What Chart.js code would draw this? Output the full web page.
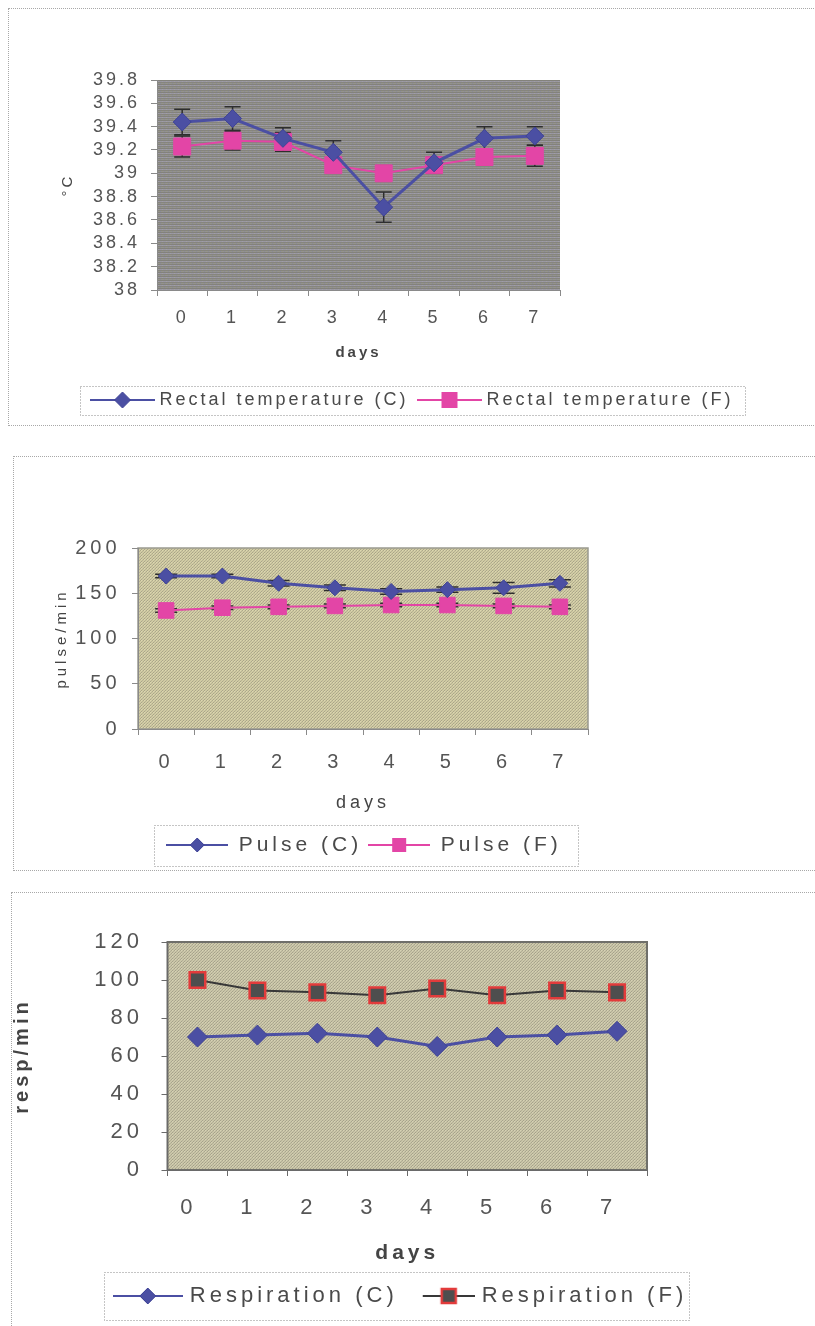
<!DOCTYPE html>
<html>
<head>
<meta charset="utf-8">
<script src="https://cdn.jsdelivr.net/npm/chart.js@4.4.0/dist/chart.umd.min.js"></script>
<style>
  body { margin: 0; background: #fff; width: 815px; height: 1326px; position: relative; overflow: hidden; }
  .panel { position: absolute; border: 1px dotted #a8a8a8; }
  .panel canvas { position: absolute; left: 0; top: 0; }
</style>
</head>
<body>
<div class="panel" style="left:8px;top:8px;width:830px;height:416px"><canvas id="tempChart" width="806" height="416"></canvas></div>
<div class="panel" style="left:13px;top:456px;width:830px;height:413px"><canvas id="pulseChart" width="801" height="413"></canvas></div>
<div class="panel" style="left:11px;top:892px;width:830px;height:450px"><canvas id="respChart" width="803" height="433"></canvas></div>

<script>
// values
var days = ['0', '1', '2', '3', '4', '5', '6', '7'];

var tempC = [39.44, 39.47, 39.30, 39.18, 38.71, 39.09, 39.30, 39.32];
var tempCErr = [0.11, 0.10, 0.09, 0.10, 0.13, 0.09, 0.10, 0.08];
var tempF = [39.23, 39.28, 39.27, 39.07, 39.00, 39.07, 39.14, 39.15];
var tempFErr = [0.09, 0.08, 0.08, 0.03, 0.02, 0.07, 0.07, 0.09];
var tempTicks = [38, 39.8, 0.2];   // min, max, step

var pulseC = [169, 169, 161, 156, 152, 154, 156, 161];
var pulseCErr = [2, 2, 3, 3, 3, 3, 6, 4];
var pulseF = [131, 134, 135, 136, 137, 137, 136, 135];
var pulseFErr = [2, 2, 2, 2, 2, 2, 2, 2];
var pulseTicks = [0, 200, 50];

var respC = [70, 71, 72, 70, 65, 70, 71, 73];
var respF = [100, 94.5, 93.5, 92, 95.5, 92, 94.5, 93.5];
var respTicks = [0, 120, 20];

var FONT = '"Liberation Sans", Arial, sans-serif';
var BLUE = '#4b4fa3';
var PINK = '#e345a6';

// small textured tiles for the plot backgrounds
function tile(w, h, base, dots) {
    var c = document.createElement('canvas');
    c.width = w; c.height = h;
    var g = c.getContext('2d');
    g.fillStyle = base;
    g.fillRect(0, 0, w, h);
    dots.forEach(function(d) {
        g.fillStyle = d[2];
        g.fillRect(d[0], d[1], d[3] || 1, 1);
    });
    return c;
}
var tiles = {
    gray: tile(4, 4, '#8e8d87', [[0, 0, '#9a98a2', 4], [0, 1, '#86857e', 4], [0, 2, '#95948b', 4], [0, 3, '#83827c', 4], [1, 0, '#a09da8'], [3, 2, '#8b8a9a']]),
    olive: tile(3, 3, '#d0cba3', [[0, 0, '#aca78a'], [2, 1, '#b7b294'], [1, 2, '#a9a489'], [1, 0, '#dcd7b0']]),
    khaki: tile(3, 3, '#cac6a8', [[0, 0, '#a8a48d'], [2, 1, '#b3af97'], [1, 2, '#a5a18b'], [1, 0, '#d6d2b4']])
};

// legend swatch: line with the marker in its middle (x0 = where the line starts)
function icon(w, x0, lineColor, lineWidth, shape, size, fill, stroke, strokeWidth) {
    var c = document.createElement('canvas');
    c.width = w; c.height = 26;
    var g = c.getContext('2d');
    var cx = (x0 + w) / 2;
    g.strokeStyle = lineColor;
    g.lineWidth = lineWidth;
    g.beginPath(); g.moveTo(x0, 13); g.lineTo(w, 13); g.stroke();
    g.fillStyle = fill;
    g.strokeStyle = stroke;
    g.lineWidth = strokeWidth;
    g.beginPath();
    if (shape === 'diamond') {
        g.moveTo(cx, 13 - size); g.lineTo(cx + size, 13);
        g.lineTo(cx, 13 + size); g.lineTo(cx - size, 13);
        g.closePath();
    } else {
        g.rect(cx - size, 13 - size, size * 2, size * 2);
    }
    g.fill();
    if (strokeWidth) g.stroke();
    return c;
}

var plotBg = {
    id: 'plotBg',
    beforeDraw: function(chart, args, o) {
        var ctx = chart.ctx, a = chart.chartArea;
        ctx.save();
        ctx.fillStyle = ctx.createPattern(tiles[o.tile], 'repeat');
        ctx.fillRect(a.left, a.top, a.width, a.height);
        if (o.border) {
            ctx.strokeStyle = o.border;
            ctx.lineWidth = o.borderWidth;
            ctx.strokeRect(a.left, a.top, a.width, a.height);
        }
        ctx.restore();
    }
};

var errorBars = {
    id: 'errorBars',
    beforeDatasetsDraw: function(chart, args, o) {
        var ctx = chart.ctx, y = chart.scales.y;
        chart.data.datasets.forEach(function(ds, i) {
            if (!ds.errors) return;
            var meta = chart.getDatasetMeta(i);
            ctx.save();
            ctx.strokeStyle = o.color;
            ctx.lineWidth = o.width;
            meta.data.forEach(function(pt, j) {
                var t = y.getPixelForValue(ds.data[j] + ds.errors[j]);
                var b = y.getPixelForValue(ds.data[j] - ds.errors[j]);
                ctx.beginPath();
                ctx.moveTo(pt.x, t); ctx.lineTo(pt.x, b);
                ctx.moveTo(pt.x - o.cap, t); ctx.lineTo(pt.x + o.cap, t);
                ctx.moveTo(pt.x - o.cap, b); ctx.lineTo(pt.x + o.cap, b);
                ctx.stroke();
            });
            ctx.restore();
        });
    }
};

var legendBox = {
    id: 'legendBox',
    afterDraw: function(chart, args, o) {
        var hb = chart.legend && chart.legend.legendHitBoxes;
        if (!hb || !hb.length) return;
        var first = hb[0], last = hb[hb.length - 1];
        var cy = first.top + first.height / 2;
        var x0 = Math.round(first.left - o.left) + 0.5;
        var x1 = Math.round(last.left + last.width + o.right) + 0.5;
        var ctx = chart.ctx;
        ctx.save();
        ctx.setLineDash([1, 2]);
        ctx.strokeStyle = '#8a8a8a';
        ctx.lineWidth = 1;
        ctx.strokeRect(x0, Math.round(cy - o.half) + 0.5, x1 - x0, Math.round(o.half * 2));
        ctx.restore();
    }
};

// the scan is stretched sideways, so all text gets some letter spacing
var spacing = {
    id: 'spacing',
    beforeLayout: function(chart, args, o) { chart.ctx.letterSpacing = o.px + 'px'; },
    beforeDraw: function(chart, args, o) { chart.ctx.letterSpacing = o.px + 'px'; }
};

function makeChart(id, o) {
    return new Chart(document.getElementById(id), {
        type: 'line',
        data: { labels: days, datasets: o.datasets },
        options: {
            responsive: false,
            animation: false,
            devicePixelRatio: 1,
            layout: { padding: o.pad },
            elements: { line: { tension: 0 } },
            plugins: {
                legend: {
                    position: 'bottom',
                    labels: {
                        usePointStyle: true,
                        pointStyleWidth: o.legend.box,
                        padding: o.legend.padding,
                        color: '#4a4a4a',
                        font: { family: FONT, size: o.legend.size },
                        generateLabels: function(chart) {
                            var items = Chart.defaults.plugins.legend.labels.generateLabels(chart);
                            items.sort(function(a, b) { return a.datasetIndex - b.datasetIndex; });
                            items.forEach(function(it) { it.pointStyle = o.icons[it.datasetIndex]; });
                            return items;
                        }
                    }
                },
                tooltip: { enabled: false },
                plotBg: o.bg,
                errorBars: { color: '#2e2e2e', width: 1.5, cap: o.cap || 7 },
                legendBox: o.legend.frame,
                spacing: { px: o.spacing }
            },
            scales: {
                x: {
                    type: 'category',
                    offset: true,
                    grid: { offset: true, drawOnChartArea: false, tickLength: 6, color: o.axis },
                    border: { display: true, color: o.axis },
                    ticks: { color: '#555', padding: o.x.pad, labelOffset: o.x.shift || 0, maxRotation: 0, autoSkip: false, font: { family: FONT, size: o.x.size } },
                    title: { display: true, text: 'days', color: '#444', font: o.x.titleFont, padding: { top: 0, bottom: o.x.titlePad } },
                    afterFit: function(s) { s.height = o.x.height; }
                },
                y: {
                    min: o.y.ticks[0],
                    max: o.y.ticks[1],
                    grid: { drawOnChartArea: false, tickLength: 6, color: o.axis },
                    border: { display: true, color: o.axis },
                    ticks: {
                        autoSkip: false,
                        color: '#555',
                        padding: o.y.pad,
                        font: { family: FONT, size: o.y.size },
                        callback: function(v) { return String(Number(v.toFixed(1))); }
                    },
                    afterBuildTicks: function(s) {
                        var t = [], lo = o.y.ticks[0], hi = o.y.ticks[1], step = o.y.ticks[2];
                        for (var k = 0; lo + k * step <= hi + 1e-9; k++) {
                            t.push({ value: Number((lo + k * step).toFixed(4)) });
                        }
                        s.ticks = t;
                    },
                    title: { display: true, text: o.y.title, color: '#444', font: o.y.titleFont, padding: { top: o.y.titlePad, bottom: 0 } },
                    afterFit: function(s) { s.width = o.y.width; }
                },
                pad: {
                    type: 'linear',
                    position: 'right',
                    grid: { display: false },
                    border: { display: false },
                    ticks: { display: false },
                    afterFit: function(s) { s.width = o.rightGap; }
                }
            }
        },
        plugins: [plotBg, errorBars, legendBox, spacing]
    });
}

// rectal temperature
makeChart('tempChart', {
    datasets: [
        { label: 'Rectal temperature (C)', data: tempC, errors: tempCErr, borderColor: BLUE, backgroundColor: BLUE,
          borderWidth: 3, pointStyle: 'rectRot', pointRadius: 9, pointBorderColor: '#3f4396', pointBorderWidth: 1 },
        { label: 'Rectal temperature (F)', data: tempF, errors: tempFErr, borderColor: PINK, backgroundColor: PINK,
          borderWidth: 2, pointStyle: 'rect', pointRadius: 12, pointBorderColor: PINK, pointBorderWidth: 1 }
    ],
    icons: [icon(65, 0, BLUE, 2, 'diamond', 8, BLUE, '#3f4396', 1), icon(65, 0, PINK, 2, 'square', 8, PINK, PINK, 0)],
    pad: { left: 4, right: 0, top: 71, bottom: 6 },
    rightGap: 255,
    spacing: 3,
    axis: '#8a8a8a',
    cap: 8,
    bg: { tile: 'gray' },
    x: { size: 18, pad: 11.2, height: 88, titleFont: { family: FONT, size: 15, weight: 'bold' }, titlePad: 16 },
    y: { ticks: tempTicks, size: 18, pad: 11, width: 144, title: '°C', titleFont: { family: FONT, size: 15 }, titlePad: 46 },
    legend: { size: 18, box: 56, padding: 13, frame: { left: 14.5, right: 11, half: 14.5 } }
});

// pulse
makeChart('pulseChart', {
    datasets: [
        { label: 'Pulse (C)', data: pulseC, errors: pulseCErr, borderColor: BLUE, backgroundColor: BLUE,
          borderWidth: 3, pointStyle: 'rectRot', pointRadius: 8, pointBorderColor: '#3f4396', pointBorderWidth: 1 },
        { label: 'Pulse (F)', data: pulseF, errors: pulseFErr, borderColor: PINK, backgroundColor: PINK,
          borderWidth: 2, pointStyle: 'rect', pointRadius: 11, pointBorderColor: PINK, pointBorderWidth: 1 }
    ],
    icons: [icon(62, 0, BLUE, 2, 'diamond', 7, BLUE, '#3f4396', 1), icon(62, 0, PINK, 2, 'square', 7, PINK, PINK, 0)],
    pad: { left: 4, right: 105, top: 91, bottom: 4.5 },
    rightGap: 122,
    spacing: 4,
    axis: '#8a8a8a',
    cap: 11,
    bg: { tile: 'olive', border: '#9a9a90', borderWidth: 1.5 },
    x: { size: 20, pad: 15, height: 99.5, titleFont: { family: FONT, size: 18 }, titlePad: 14.7 },
    y: { ticks: pulseTicks, size: 20, pad: 11.5, width: 120, title: 'pulse/min', titleFont: { family: FONT, size: 15 }, titlePad: 35 },
    legend: { size: 21, box: 62, padding: 6, frame: { left: 12, right: 16, half: 20.5 } }
});

// respiration
makeChart('respChart', {
    datasets: [
        { label: 'Respiration (C)', data: respC, borderColor: BLUE, backgroundColor: BLUE,
          borderWidth: 3, pointStyle: 'rectRot', pointRadius: 10, pointBorderColor: '#3f4396', pointBorderWidth: 1 },
        { label: 'Respiration (F)', data: respF, borderColor: '#383838', backgroundColor: '#4a4a4a',
          borderWidth: 2, pointStyle: 'rect', pointRadius: 11, pointBackgroundColor: '#4e4e4e', pointBorderColor: '#e23b3b', pointBorderWidth: 2.5 }
    ],
    icons: [icon(70, 0, BLUE, 2, 'diamond', 8, BLUE, '#3f4396', 1), icon(70, 18, '#383838', 2, 'square', 7, '#4e4e4e', '#e23b3b', 2.5)],
    pad: { left: 0, right: 23, top: 49, bottom: 9 },
    rightGap: 145,
    spacing: 4,
    axis: '#6a6a6a',
    bg: { tile: 'khaki', border: '#6f6f6a', borderWidth: 2 },
    x: { size: 22, pad: 18.8, shift: -9, height: 104, titleFont: { family: FONT, size: 21, weight: 'bold' }, titlePad: 8.4 },
    y: { ticks: respTicks, size: 22, pad: 18.5, width: 155.5, title: 'resp/min', titleFont: { family: FONT, size: 20, weight: 'bold', lineHeight: 1 }, titlePad: 0 },
    legend: { size: 22, box: 62, padding: 11, frame: { left: 13, right: 2, half: 24 } }
});
</script>
</body>
</html>
